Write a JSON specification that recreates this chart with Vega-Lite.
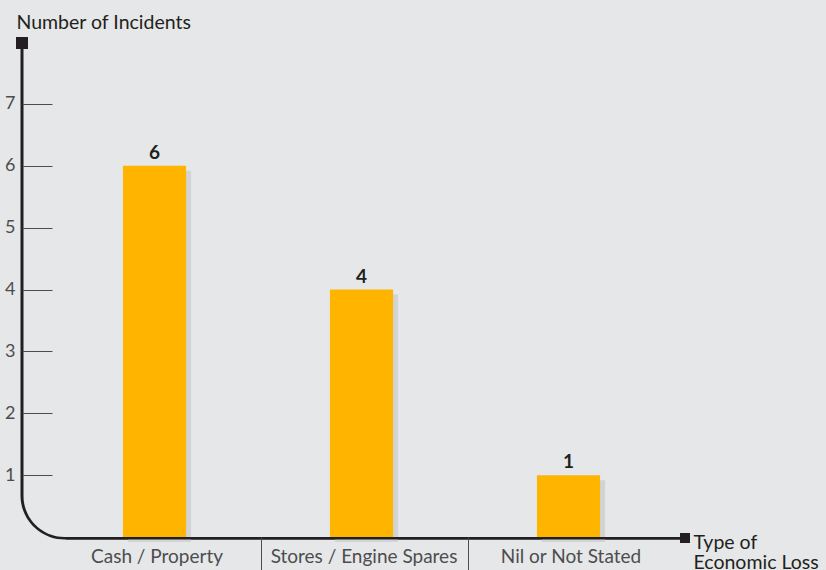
{
  "$schema": "https://vega.github.io/schema/vega-lite/v6.json",
  "autosize": {"type": "none"},
  "padding": {"left": 22, "top": 42, "right": 146, "bottom": 33},
  "width": 658,
  "height": 495,
  "background": "#e6e7e8",
  "view": {"stroke": null},
  "config": {"font": "Lato"},
  "data": {
    "values": [
      {"loss": "Cash / Property", "incidents": 6},
      {"loss": "Stores / Engine Spares", "incidents": 4},
      {"loss": "Nil or Not Stated", "incidents": 1}
    ]
  },
  "layer": [
    {
      "data": {"values": [{}]},
      "mark": {"type": "rect", "color": "#231f20", "cornerRadiusBottomLeft": 44, "xOffset": -1.5, "y2Offset": 2.5},
      "encoding": {"x": {"value": 0}, "x2": {"value": "width"}, "y": {"value": 0}, "y2": {"value": "height"}}
    },
    {
      "data": {"values": [{}]},
      "mark": {"type": "rect", "color": "#e6e7e8", "cornerRadiusBottomLeft": 41, "xOffset": 1.5},
      "encoding": {"x": {"value": 0}, "x2": {"value": "width"}, "y": {"value": 0}, "y2": {"value": "height"}}
    },
    {
      "encoding": {
        "x": {
          "field": "loss",
          "type": "nominal",
          "sort": null,
          "scale": {"paddingInner": 0, "paddingOuter": 0.0894, "align": 0.784},
          "axis": {
            "title": ["Type of", "Economic Loss"],
            "domain": false,
            "grid": false,
            "bandPosition": 0,
            "tickOffset": 2.5,
            "labelOffset": -0.5,
            "tickSize": 34,
            "tickWidth": 1,
            "tickColor": {"condition": {"test": "datum.value === 'Cash / Property'", "value": "transparent"}, "value": "#4d4d4f"},
            "labelPadding": -9,
            "labelBaseline": "alphabetic",
            "labelAlign": "center",
            "labelAngle": 0,
            "labelFontSize": 19,
            "labelColor": "#4d4d4f",
            "labelOverlap": false,
            "labelBound": false,
            "labelLimit": 0,
            "titleX": 671,
            "titleY": 11,
            "titleAlign": "left",
            "titleBaseline": "alphabetic",
            "titleFontSize": 19.5,
            "titleFontWeight": "normal",
            "titleLineHeight": 20,
            "titleColor": "#231f20",
            "titleLimit": 0,
            "zindex": 1
          }
        },
        "y": {
          "field": "incidents",
          "type": "quantitative",
          "scale": {"domain": [0, 8], "nice": false},
          "axis": {
            "title": "Number of Incidents",
            "values": [1, 2, 3, 4, 5, 6, 7],
            "domain": false,
            "grid": false,
            "tickSize": -30,
            "tickWidth": 1,
            "tickColor": "#4d4d4f",
            "labelPadding": 37,
            "labelFontSize": 18,
            "labelColor": "#4d4d4f",
            "labelBaseline": "middle",
            "titleAngle": 0,
            "titleAlign": "left",
            "titleBaseline": "alphabetic",
            "titleX": -6,
            "titleY": -14,
            "titleFontSize": 19.5,
            "titleFontWeight": "normal",
            "titleColor": "#231f20",
            "titleLimit": 0,
            "zindex": 1
          }
        }
      },
      "layer": [
        {"mark": {"type": "bar", "color": "#d1d3d4", "width": {"band": 0.305}, "xOffset": 5, "yOffset": 5}},
        {"mark": {"type": "bar", "color": "#ffb400", "width": {"band": 0.305}}},
        {
          "mark": {"type": "text", "dy": -7, "baseline": "alphabetic", "fontWeight": "bold", "fontSize": 19, "color": "#231f20"},
          "encoding": {"text": {"field": "incidents", "type": "quantitative"}}
        }
      ]
    },
    {
      "data": {"values": [{}]},
      "mark": {"type": "rect", "color": "#231f20", "xOffset": 44, "y2Offset": 2.5},
      "encoding": {"x": {"value": 0}, "x2": {"value": "width"}, "y": {"value": "height"}, "y2": {"value": "height"}}
    },
    {
      "data": {"values": [{}]},
      "mark": {"type": "point", "shape": "square", "filled": true, "opacity": 1, "color": "#231f20", "size": 144, "yOffset": 1},
      "encoding": {"x": {"value": 0}, "y": {"value": 0}}
    },
    {
      "data": {"values": [{}]},
      "mark": {"type": "point", "shape": "square", "filled": true, "opacity": 1, "color": "#231f20", "size": 100, "xOffset": 5, "yOffset": 1},
      "encoding": {"x": {"value": "width"}, "y": {"value": "height"}}
    }
  ]
}
